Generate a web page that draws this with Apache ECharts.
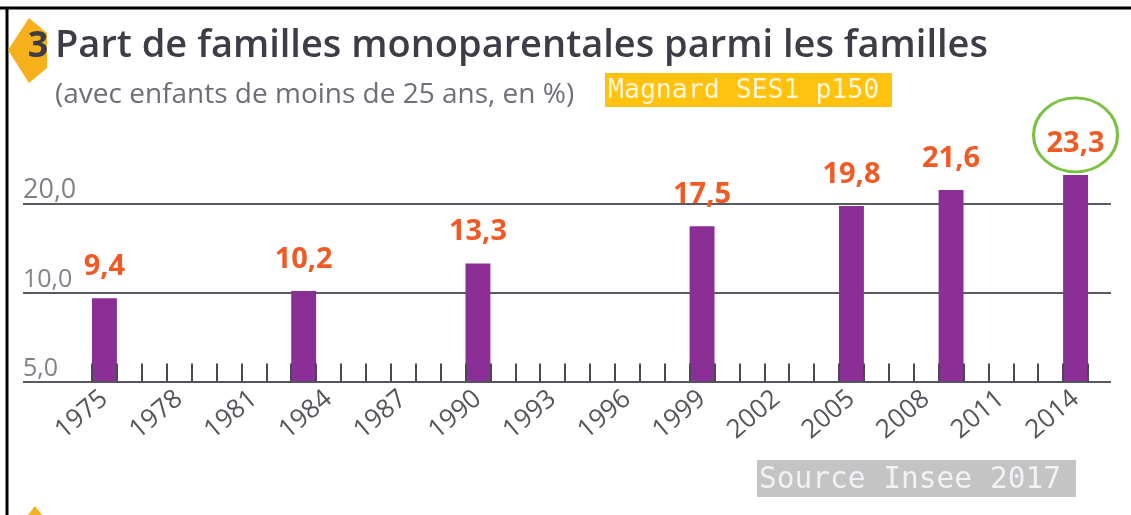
<!DOCTYPE html>
<html>
<head>
<meta charset="utf-8">
<script src="https://cdn.jsdelivr.net/npm/echarts@6/dist/echarts.min.js"></script>
<style>
html,body{margin:0;padding:0;background:#fff;}
#chart{width:1131px;height:515px;}
</style>
</head>
<body>
<div id="chart"></div>
<script>
// ---- data ----
const titleText = 'Part de familles monoparentales parmi les familles';
const subtitleText = '(avec enfants de moins de 25 ans, en %)';
const badgeText = '3';
const tagText = 'Magnard SES1 p150';
const sourceText = 'Source Insee 2017';
const years = ['1975','1976','1977','1978','1979','1980','1981','1982','1983','1984',
  '1985','1986','1987','1988','1989','1990','1991','1992','1993','1994',
  '1995','1996','1997','1998','1999','2000','2001','2002','2003','2004',
  '2005','2006','2007','2008','2009','2010','2011','2012','2013','2014'];
const barYears = ['1975','1983','1990','1999','2005','2009','2014'];
const barValues = [9.4, 10.2, 13.3, 17.5, 19.8, 21.6, 23.3];
const yTickLabels = ['5,0', '10,0', '20,0'];
const highlightIndex = 6;

// ---- chart ----
const chart = echarts.init(document.getElementById('chart'), null, {renderer: 'canvas'});
const FONT = '"Open Sans", "Noto Sans", sans-serif';
const MONO = '"DejaVu Sans Mono", "Liberation Mono", monospace';
const gridTop = 115.5, gridBottom = 133.5;

const option = {
  backgroundColor: '#ffffff',
  animation: false,
  grid: [
    {left: 23, right: 20, top: gridTop, bottom: gridBottom},
    {left: 92, right: 43, top: gridTop, bottom: gridBottom}
  ],
  xAxis: [
    {type: 'value', gridIndex: 0, show: false, min: 0, max: 1},
    {
      type: 'category', gridIndex: 1, data: years, z: 5,
      boundaryGap: true,
      axisLine: {show: true, lineStyle: {color: '#55555f', width: 2}},
      axisTick: {show: true, inside: true, length: 18, interval: 0, alignWithLabel: false,
        lineStyle: {color: '#4a4a55', width: 2}},
      axisLabel: {interval: 2, rotate: 40, fontSize: 26, color: '#55555c', margin: 14, fontFamily: FONT}
    }
  ],
  yAxis: [
    {
      type: 'value', gridIndex: 0, min: 0, max: 30, interval: 10,
      axisLine: {show: false}, axisTick: {show: false},
      splitLine: {show: true, showMaxLine: false, lineStyle: {color: '#5a5a63', width: 2}},
      axisLabel: {
        inside: true, margin: 0, align: 'left', verticalAlign: 'bottom',
        showMaxLabel: false, color: '#808088', fontFamily: FONT,
        formatter: function (v, i) {
          const t = yTickLabels[i];
          if (t === undefined) return '';
          return '{s' + i + '|' + t + '}';
        },
        rich: {
          s0: {fontSize: 25, color: '#808088', fontFamily: FONT},
          s1: {fontSize: 25, color: '#808088', fontFamily: FONT},
          s2: {fontSize: 27, color: '#808088', fontFamily: FONT}
        }
      }
    },
    {type: 'value', gridIndex: 1, min: 0, max: 30, show: false}
  ],
  series: [{
    type: 'bar', xAxisIndex: 1, yAxisIndex: 1,
    barCategoryGap: '0%',
    data: barYears.map((y, i) => [y, barValues[i]]),
    itemStyle: {color: '#8b2f97'},
    label: {
      show: true, position: 'top', distance: 17,
      color: '#f15a24', fontSize: 29, fontWeight: 'bold', fontFamily: FONT,
      formatter: p => p.value[1].toFixed(1).replace('.', ',')
    },
    markPoint: {
      symbol: 'circle', symbolSize: [84, 74], symbolOffset: [0, -40],
      itemStyle: {color: 'rgba(0,0,0,0)', borderColor: '#7cc242', borderWidth: 3},
      label: {show: false},
      data: [{coord: [barYears[highlightIndex], barValues[highlightIndex]]}]
    }
  }],
  graphic: [
    {type: 'line', shape: {x1: 0, y1: 8, x2: 1131, y2: 8}, style: {stroke: '#000', lineWidth: 3}},
    {type: 'line', shape: {x1: 7, y1: 8, x2: 7, y2: 515}, style: {stroke: '#000', lineWidth: 3}},
    {type: 'polygon', shape: {points: [[29, 18], [47, 33], [47, 68], [29, 83], [8, 50]]}, style: {fill: '#f6b01c'}},
    {type: 'text', x: 38, y: 46.5, style: {text: badgeText, fill: '#3d3d48', font: 'bold 36px ' + FONT, align: 'center', verticalAlign: 'middle'}},
    {type: 'text', x: 55, y: 46.5, style: {text: titleText, fill: '#3d3d48', font: '600 38px ' + FONT, align: 'left', verticalAlign: 'middle'}},
    {type: 'text', x: 55, y: 95, style: {text: subtitleText, fill: '#6e6e78', font: '28px ' + FONT, align: 'left', verticalAlign: 'middle'}},
    {type: 'rect', shape: {x: 605, y: 73, width: 287, height: 34}, style: {fill: '#ffc20e'}},
    {type: 'text', x: 608, y: 91, style: {text: tagText, fill: '#fff6d8', font: '26.5px ' + MONO, align: 'left', verticalAlign: 'middle'}},
    {type: 'rect', shape: {x: 757, y: 460, width: 319, height: 37}, style: {fill: '#c4c4c4'}},
    {type: 'text', x: 759, y: 480.5, style: {text: sourceText, fill: '#f2f2f6', font: '29.5px ' + MONO, align: 'left', verticalAlign: 'middle'}},
    {type: 'polygon', shape: {points: [[28, 515], [35, 506], [42, 515]]}, style: {fill: '#f6b01c'}}
  ]
};
chart.setOption(option);
</script>
</body>
</html>
